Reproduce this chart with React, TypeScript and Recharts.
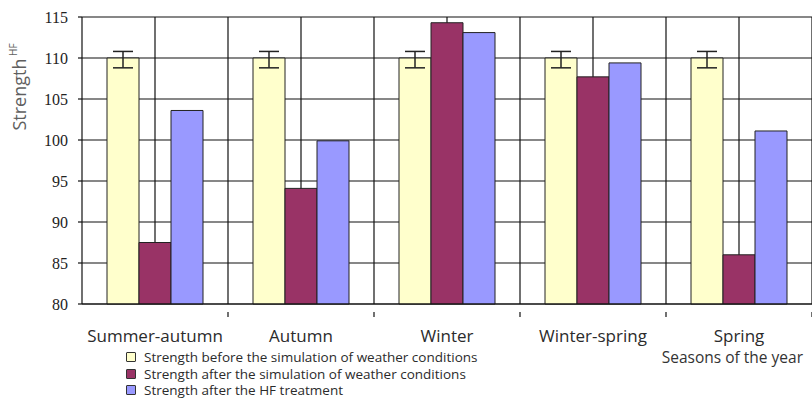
import React from 'react';
import { BarChart, Bar, XAxis, YAxis, CartesianGrid, ErrorBar, Legend } from 'recharts';

const seasons = ['Summer-autumn', 'Autumn', 'Winter', 'Winter-spring', 'Spring'];
const strengthBefore = [110, 110, 110, 110, 110];
const strengthBeforeError = [[1.2, 0.8], [1.2, 0.8], [1.2, 0.8], [1.2, 0.8], [1.2, 0.8]];
const strengthAfterWeather = [87.5, 94.1, 114.3, 107.7, 86.0];
const strengthAfterHF = [103.6, 99.9, 113.1, 109.4, 101.1];
const yTicks = [80, 85, 90, 95, 100, 105, 110, 115];

const seriesNames = [
  'Strength before the simulation of weather conditions',
  'Strength after the simulation of weather conditions',
  'Strength after the HF treatment',
];
const seriesColors = ['#FFFFCC', '#993366', '#9999FF'];

const data = seasons.map((season, i) => ({
  season,
  before: strengthBefore[i],
  beforeErr: strengthBeforeError[i],
  afterWeather: strengthAfterWeather[i],
  afterHF: strengthAfterHF[i],
}));

const sansFont = '"Open Sans", "Noto Sans", sans-serif';

const SeasonTick = (props: any) => {
  const { x, y, payload } = props;
  const half = payload.offset || 0;
  return (
    <g>
      <line x1={x + half} y1={y} x2={x + half} y2={y + 5} stroke="#111" strokeWidth={1.2} />
      <text x={x} y={y + 30} textAnchor="middle" fontFamily={sansFont} fontSize={17} fill="#2b2b2b">
        {payload.value}
      </text>
    </g>
  );
};

const LegendContent = () => (
  <div style={{ fontFamily: sansFont, fontSize: 13.5, color: '#2b2b2b', lineHeight: '16.5px' }}>
    {seriesNames.map((name, i) => (
      <div key={name} style={{ display: 'flex', alignItems: 'center', whiteSpace: 'nowrap', height: 16.5 }}>
        <span
          style={{
            display: 'inline-block',
            width: 8,
            height: 8,
            background: seriesColors[i],
            border: '1px solid #333',
            borderRadius: 1,
            marginRight: 8,
          }}
        />
        {name}
      </div>
    ))}
  </div>
);

const App: React.FC = () => {
  return (
    <div style={{ position: 'absolute', left: 0, top: 0, width: 812, height: 400, background: '#fff' }}>
      <BarChart
        width={812}
        height={400}
        data={data}
        margin={{ top: 17, right: 0, left: 0, bottom: 0 }}
        barGap={0}
        barSize={32}
      >
        <CartesianGrid
          stroke="#111"
          strokeWidth={1.2}
          verticalCoordinatesGenerator={({ offset }: any) =>
            Array.from({ length: 10 }, (_, k) => offset.left + ((k + 1) * offset.width) / 10)
          }
        />
        <XAxis
          dataKey="season"
          height={96}
          axisLine={{ stroke: '#111', strokeWidth: 1.2 }}
          tickLine={false}
          tick={<SeasonTick />}
          interval={0}
          label={(props: any) => {
            const vb = props.viewBox;
            return (
              <text
                x={vb.x + vb.width - 9}
                y={vb.y + 59}
                textAnchor="end"
                fontFamily={sansFont}
                fontSize={15.5}
                fill="#333"
              >
                Seasons of the year
              </text>
            );
          }}
        />
        <YAxis
          width={82}
          domain={[80, 115]}
          ticks={yTicks}
          interval={0}
          tickSize={4}
          tickMargin={10}
          axisLine={{ stroke: '#111', strokeWidth: 1.2 }}
          tickLine={{ stroke: '#111', strokeWidth: 1.2 }}
          tick={{ fontFamily: '"Liberation Serif", serif', fontSize: 16, fill: '#222' }}
          label={(props: any) => {
            const vb = props.viewBox;
            const cx = 19;
            const cy = vb.y + 70;
            return (
              <text
                x={cx}
                y={cy}
                transform={`rotate(-90 ${cx} ${cy})`}
                textAnchor="middle"
                dominantBaseline="central"
                fontFamily={sansFont}
                fontSize={18}
                fill="#5f5f5f"
              >
                Strength
                <tspan fontSize={10} dy={-6}> HF</tspan>
              </text>
            );
          }}
        />
        <Legend
          layout="horizontal"
          verticalAlign="middle"
          align="center"
          content={<LegendContent />}
          wrapperStyle={{ position: 'absolute', left: 126, top: 349, width: 420, height: 50 }}
        />
        <Bar dataKey="before" name={seriesNames[0]} fill={seriesColors[0]} stroke="#222" strokeWidth={1} isAnimationActive={false}>
          <ErrorBar dataKey="beforeErr" width={10} stroke="#222" strokeWidth={1.5} isAnimationActive={false} />
        </Bar>
        <Bar dataKey="afterWeather" name={seriesNames[1]} fill={seriesColors[1]} stroke="#222" strokeWidth={1} isAnimationActive={false} />
        <Bar dataKey="afterHF" name={seriesNames[2]} fill={seriesColors[2]} stroke="#222" strokeWidth={1} isAnimationActive={false} />
      </BarChart>
    </div>
  );
};

export default App;
